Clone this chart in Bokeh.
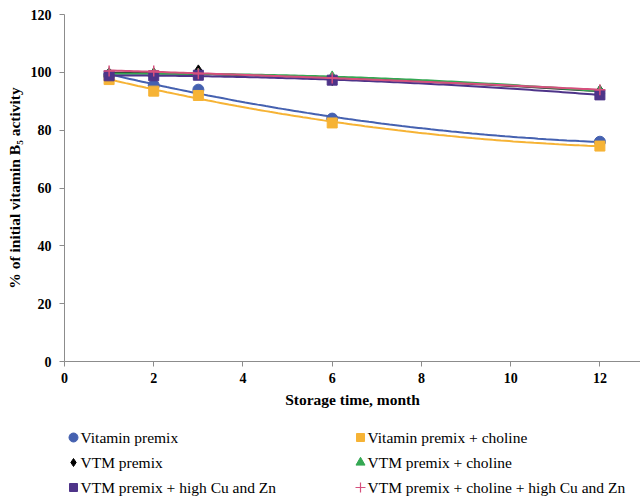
import numpy as np
from bokeh.plotting import figure
from bokeh.layouts import column
from bokeh.models import Range1d, FixedTicker
from bokeh.core.properties import value
from bokeh.embed import file_html
from bokeh.resources import INLINE

months = [1, 2, 3, 6, 12]
vitamin_premix = [99.0, 95.5, 94.0, 84.0, 76.0]
vitamin_premix_choline = [97.5, 93.5, 92.0, 82.5, 74.5]
vtm_premix = [99.5, 99.5, 100.5, 97.5, 93.5]
vtm_premix_choline = [99.5, 99.5, 99.5, 98.5, 93.5]
vtm_premix_cuzn = [98.8, 98.8, 99.0, 97.3, 92.2]
vtm_premix_choline_cuzn = [100.5, 100.5, 99.5, 98.0, 94.0]

names = ["Vitamin premix", "Vitamin premix + choline", "VTM premix",
         "VTM premix + choline", "VTM premix + high Cu and Zn",
         "VTM premix + choline + high Cu and Zn"]
x_ticks = [0, 2, 4, 6, 8, 10, 12]
y_ticks = [0, 20, 40, 60, 80, 100, 120]

series = [vitamin_premix, vitamin_premix_choline, vtm_premix,
          vtm_premix_choline, vtm_premix_cuzn, vtm_premix_choline_cuzn]
markers = ["circle", "square", "diamond", "triangle", "square", "cross"]
colors = ["#4561B0", "#F6B335", "#000000", "#34A853", "#4E3489", "#D6507D"]
line_colors = ["#4561B0", "#F6B335", "#333333", "#34A853", "#4E3489", "#D6507D"]
sizes = [11, 10, 12, 10, 10, 11]
legend_sizes = [9, 8, 8, 9, 8, 10]

FONT = "Liberation Serif"

p = figure(width=640, height=421, output_backend="svg", toolbar_location=None,
           x_range=Range1d(0, 12.91), y_range=Range1d(0, 120),
           min_border_left=64, min_border_right=0, min_border_top=14,
           min_border_bottom=60)
p.outline_line_color = None
p.grid.visible = False
p.background_fill_color = "white"
p.border_fill_color = "white"

for ax in (p.xaxis[0], p.yaxis[0]):
    ax.axis_line_color = "#8c8c8c"
    ax.major_tick_line_color = "#8c8c8c"
    ax.major_tick_out = 5
    ax.major_tick_in = 0
    ax.minor_tick_out = 0
    ax.minor_tick_in = 0
    ax.major_label_text_font = FONT
    ax.major_label_text_font_style = "bold"
    ax.major_label_text_font_size = "14px"
    ax.major_label_text_color = "black"
    ax.axis_label_text_font = FONT
    ax.axis_label_text_font_style = "bold"
    ax.axis_label_text_font_size = "15.5px"
    ax.axis_label_text_color = "black"

p.xaxis.ticker = FixedTicker(ticks=x_ticks)
p.yaxis.ticker = FixedTicker(ticks=y_ticks)
p.xaxis.major_label_standoff = 6
p.yaxis.major_label_standoff = 8
p.xaxis.axis_label = "Storage time, month"
p.yaxis.axis_label = "% of initial vitamin B\u2085 activity"
p.xaxis.axis_label_standoff = 5
p.yaxis.axis_label_standoff = 5

xs = np.linspace(1, 12, 120)
for vals, mk, c, lc, s in zip(series, markers, colors, line_colors, sizes):
    coef = np.polyfit(months, vals, 2)
    p.line(xs, np.polyval(coef, xs), line_color=lc, line_width=2)
    if mk == "cross":
        p.scatter(months, vals, marker=mk, size=s, line_color=c, line_width=1.5)
    else:
        p.scatter(months, vals, marker=mk, size=s, fill_color=c, line_color=c)

# legend panel below the chart (coordinates = pixels of the page)
lg = figure(width=640, height=75, output_backend="svg", toolbar_location=None,
            x_range=Range1d(64, 640), y_range=Range1d(496, 421),
            min_border_left=64, min_border_right=0, min_border_top=0,
            min_border_bottom=0)
lg.axis.visible = False
lg.grid.visible = False
lg.outline_line_color = None
lg.background_fill_color = "white"
lg.border_fill_color = "white"

col_x = [73, 360]
row_y = [437, 462, 487]
for i, name in enumerate(names):
    cx = col_x[i % 2]
    cy = row_y[i // 2]
    mk = markers[i]
    if mk == "cross":
        lg.scatter([cx], [cy], marker=mk, size=legend_sizes[i],
                   line_color=colors[i], line_width=1.2)
    else:
        lg.scatter([cx], [cy], marker=mk, size=legend_sizes[i],
                   fill_color=colors[i], line_color=colors[i])
    lg.text([cx + 7], [cy], text=[name], text_font=value(FONT),
            text_font_size="15.5px", text_baseline="middle", text_align="left",
            text_color="black")

layout = column(p, lg, spacing=0)
open("out.html", "w").write(file_html(layout, INLINE))
